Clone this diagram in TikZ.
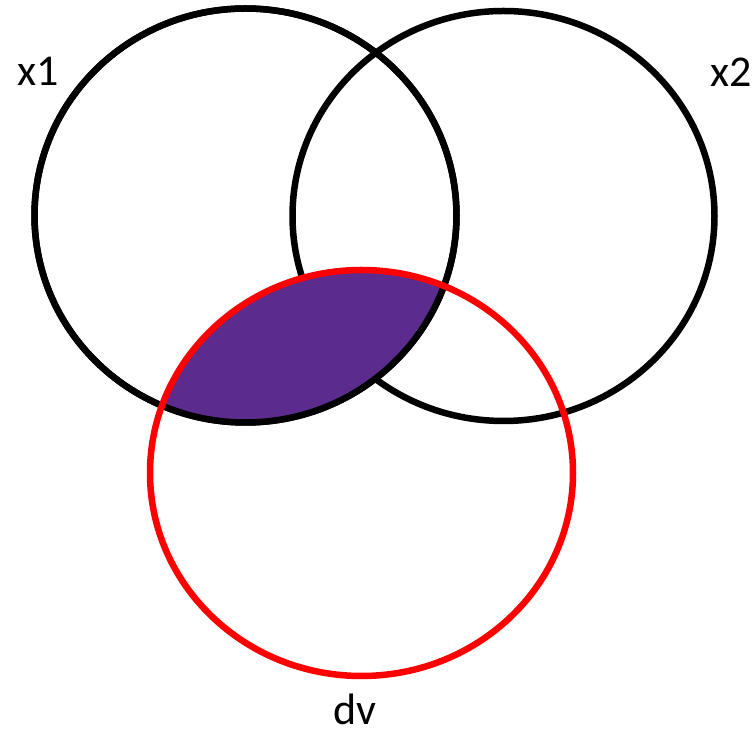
\documentclass[tikz,border=0pt]{standalone}
\usepackage{fontspec}
\setmainfont{Carlito}
\usepackage{xcolor}
\usepackage{tikz}
\definecolor{vnInk}{HTML}{000000}
\definecolor{vnRed}{HTML}{FF0000}
\definecolor{vnShade}{HTML}{5B2C8E}
\tikzset{
  vn diagram/.style={x=1pt, y=1pt, line cap=round, line join=round},
  vn set/.style={draw=vnInk, line width=6.5pt},
  vn dv/.style={draw=vnRed, line width=6.5pt},
  vn label/.style={font=\fontsize{44}{44}\selectfont, text=vnInk, inner sep=0pt}
}

\begin{document}
\begin{tikzpicture}[vn diagram]
\useasboundingbox (0,0) rectangle (756,733);
\coordinate (cx1) at (245.5,517.5);
\coordinate (cx2) at (503.5,517);
\coordinate (cdv) at (361.5,260);
\draw[vn set] (cx1) ellipse [x radius=211, y radius=207];
\draw[vn set] (cx2) ellipse [x radius=211, y radius=205];
% shaded overlap of x1 and dv
\begin{scope}
  \clip (cx1) ellipse [x radius=211, y radius=207];
  \fill[vnShade] (cdv) ellipse [x radius=211.5, y radius=203];
\end{scope}
\draw[vn set] (cx1) ellipse [x radius=211, y radius=207];
\draw[vn dv] (cdv) ellipse [x radius=211.5, y radius=203];
\node[vn label,anchor=base west] (x1) at (17,647) {x1};
\node[vn label,anchor=base east] (x2) at (752,646) {x2};
\node[vn label,anchor=base] (dv) at (355,8) {dv};
\end{tikzpicture}
\end{document}
